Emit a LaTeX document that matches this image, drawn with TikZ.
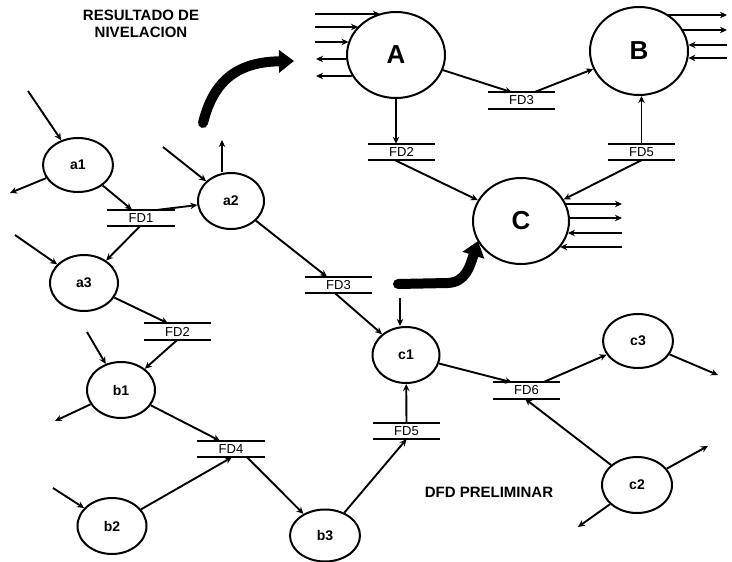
\documentclass[tikz,border=0pt]{standalone}
\usepackage{fontspec}
\setmainfont{Liberation Sans}
\usetikzlibrary{shapes.geometric,arrows.meta}
\begin{document}
\begin{tikzpicture}[x=1pt,y=-1pt,
  proc/.style={ellipse,draw,line width=2pt,inner sep=0pt,minimum width=69pt,minimum height=56pt,font=\fontsize{14}{14}\selectfont\bfseries},
  bigproc/.style={ellipse,draw,line width=2pt,inner sep=0pt,minimum width=98pt,minimum height=86pt,font=\fontsize{26}{26}\selectfont\bfseries},
  store/.style={minimum width=67pt,minimum height=16pt,inner sep=0pt,font=\fontsize{13}{13}\selectfont},
  flow/.style={line width=1.9pt,-{Stealth[length=7pt,width=6.5pt]}},
  bigarrow/.style={line width=10pt,line cap=round,-{Triangle[length=15pt,width=22pt]}},
  caption/.style={font=\fontsize{15}{17}\selectfont\bfseries,align=center}]
\useasboundingbox (0,0) rectangle (732,562);

% titles
\node[caption] (tit) at (141,24) {RESULTADO DE\\NIVELACION};
\node[caption] (dfd) at (489,492) {DFD PRELIMINAR};

% big processes
\node[bigproc] (A) at (396,55) {A};
\node[bigproc,minimum height=88pt] (B) at (639,51) {B};
\node[bigproc,minimum width=96pt] (C) at (521,221) {C};

% small processes
\node[proc,minimum width=70pt,minimum height=54pt] (a1) at (78,165) {a1};
\node[proc,minimum width=66pt] (a2) at (231,201) {a2};
\node[proc,minimum width=68pt] (a3) at (84,283) {a3};
\node[proc,minimum width=68pt] (b1) at (121,390) {b1};
\node[proc] (b2) at (112,526) {b2};
\node[proc,minimum width=70pt,minimum height=52pt] (b3) at (325,535.5) {b3};
\node[proc,minimum width=67pt] (c1) at (406,355) {c1};
\node[proc,minimum width=70pt,minimum height=54pt] (c3) at (638,341) {c3};
\node[proc,minimum width=70pt] (c2) at (637,485) {c2};

% data stores
\node[store] (fd1) at (141,218) {FD1};
\node[store] (fd2) at (177.5,331.5) {FD2};
\node[store] (fd3) at (338.5,285) {FD3};
\node[store] (fd4) at (231,449) {FD4};
\node[store] (fd5) at (406.5,431) {FD5};
\node[store] (fd6) at (526.5,390.5) {FD6};
\node[store] (FD3) at (521.5,100.5) {FD3};
\node[store] (FD2) at (401.5,152) {FD2};
\node[store] (FD5) at (641.5,152) {FD5};
\foreach \s in {fd1,fd2,fd3,fd4,fd5,fd6,FD3,FD2,FD5}
  \draw[line width=1.9pt] (\s.north west) -- (\s.north east) (\s.south west) -- (\s.south east);

% free ends
\coordinate (a1in) at (28,91);
\coordinate (a1out) at (10,193);
\coordinate (a2in) at (163,147);
\coordinate (a2up) at (222,140);
\coordinate (a3in) at (15,235);
\coordinate (b1in) at (87,332);
\coordinate (b1out) at (55,421);
\coordinate (b2in) at (53,488);
\coordinate (c1in) at (400,298);
\coordinate (c3out) at (718,375);
\coordinate (c2outR) at (708,446);
\coordinate (c2outL) at (578,527);
\coordinate (Al1) at (315,14);
\coordinate (Al2) at (315,27);
\coordinate (Al3) at (315,42);
\coordinate (Al4) at (316,59);
\coordinate (Al5) at (316,76);
\coordinate (Br1) at (727,15);
\coordinate (Br2) at (727,30);
\coordinate (Br3) at (727,45);
\coordinate (Br4) at (727,58);
\coordinate (Cr1) at (622,204);
\coordinate (Cr2) at (622,218);
\coordinate (Cr3) at (622,233);
\coordinate (Cr4) at (622,247);

% left DFD flows
\draw[flow] (a1in) -- (a1);
\draw[flow] (a1) -- (a1out);
\draw[flow] (a1) -- ([xshift=-9pt]fd1.north);
\draw[flow] ([xshift=17pt]fd1.north) -- (a2);
\draw[flow] (a2in) -- (a2);
\draw[flow] (a2up |- a2.north) -- (a2up);
\draw[flow] ([xshift=-1pt]fd1.south) -- (a3);
\draw[flow] (a3in) -- (a3);
\draw[flow] (a3) -- ([xshift=-9.5pt]fd2.north);
\draw[flow] (fd2.south) -- (b1);
\draw[flow] (b1in) -- (b1);
\draw[flow] (b1) -- (b1out);
\draw[flow] (b1) -- ([xshift=-11pt]fd4.north);
\draw[flow] (b2in) -- (b2);
\draw[flow] (b2) -- ([xshift=1pt]fd4.south);
\draw[flow] ([xshift=16pt]fd4.south) -- (b3);
\draw[flow] (b3) -- (fd5.south);
\draw[flow] (fd5.north) -- (c1);
\draw[flow] (a2) -- ([xshift=-11.5pt]fd3.north);
\draw[flow] ([xshift=-3.5pt]fd3.south) -- (c1);
\draw[flow] (c1in) -- (c1in |- c1.north);
\draw[flow] (c1) -- ([xshift=-14.5pt]fd6.north);
\draw[flow] ([xshift=16.5pt]fd6.north) -- (c3);
\draw[flow] (c3) -- (c3out);
\draw[flow] (c2) -- ([xshift=-1.5pt]fd6.south);
\draw[flow] (c2) -- (c2outR);
\draw[flow] (c2) -- (c2outL);

% levelled DFD flows
\draw[flow] (A) -- ([xshift=-9.5pt]FD3.north);
\draw[flow] ([xshift=12.5pt]FD3.north) -- (B);
\draw[flow] (A.south) -- (A.south |- FD2.north);
\draw[flow] (FD5.north) -- (FD5.north |- B.south);
\draw[flow] ([xshift=-6.5pt]FD2.south) -- (C);
\draw[flow] (FD5.south) -- (C);

\draw[flow] (Al1) -- (A.111 |- Al1);
\draw[flow] (Al2) -- (A.143 |- Al2);
\draw[flow] (Al3) -- (A.164 |- Al3);
\draw[flow] (A.185 |- Al4) -- (Al4);
\draw[flow] (A.206 |- Al5) -- (Al5);

\draw[flow] (B.52 |- Br1) -- (Br1);
\draw[flow] (B.26 |- Br2) -- (Br2);
\draw[flow] (Br3) -- (B.7 |- Br3);
\draw[flow] (Br4) -- (B.352 |- Br4);

\draw[flow] (C.21 |- Cr1) -- (Cr1);
\draw[flow] (C.4 |- Cr2) -- (Cr2);
\draw[flow] (Cr3) -- (C.345 |- Cr3);
\draw[flow] (Cr4) -- (C.326 |- Cr4);

% thick arrows
\draw[bigarrow] (203,123) .. controls (214,78) and (240,62) .. (294,61);
\draw[bigarrow] (398,284) -- (448,283) .. controls (466,282) and (470,266) .. (478,241);
\end{tikzpicture}
\end{document}
